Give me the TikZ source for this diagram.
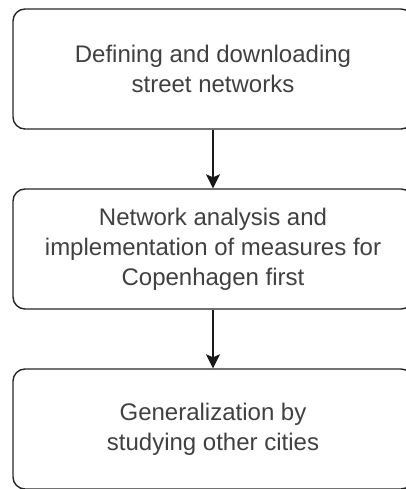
\documentclass[tikz,border=0pt]{standalone}
\usepackage{fontspec}
\setmainfont{Liberation Sans}
\usepackage{tikz}
\usetikzlibrary{positioning,arrows.meta}

\begin{document}
\begin{tikzpicture}[x=1pt, y=1pt,
    every node/.style={font=\fontsize{24}{30}\selectfont, text=black!75},
    stagebox/.style={rectangle, rounded corners=12pt, draw=black!85, line width=1.4pt,
                     minimum width=400pt, minimum height=120pt, align=center, inner sep=0pt},
    flow/.style={draw=black!90, line width=1.3pt, -{Stealth[length=14pt, width=14pt, inset=3pt]}}]
    \useasboundingbox (0,0) rectangle (406,-489);
    \clip (0,0) rectangle (406,-489);

    % Stages of the work
    \node[stagebox] (define) at (213, -69) {Defining and downloading\\street networks};
    \node[stagebox] (analyse) at (213, -249) {Network analysis and\\implementation of measures for\\Copenhagen first};
    \node[stagebox] (general) at (213, -429) {Generalization by\\studying other cities};

    % Order
    \draw[flow] (define) -- (analyse);
    \draw[flow] (analyse) -- (general);
\end{tikzpicture}
\end{document}
